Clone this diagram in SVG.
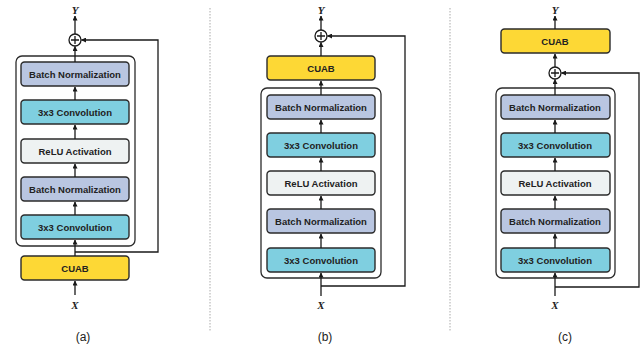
<svg xmlns="http://www.w3.org/2000/svg" width="644" height="350" viewBox="0 0 644 350">
<defs>
<marker id="ah" viewBox="0 0 10 10" refX="9" refY="5" markerWidth="5" markerHeight="5" orient="auto" markerUnits="userSpaceOnUse">
<path d="M0,0 L10,5 L0,10 z" fill="#1a1a1a"/>
</marker>
</defs>
<style>
.box{stroke:#2b2b2b;stroke-width:1.4}
.bn{fill:#b9c6e1}
.cv{fill:#7fcfe0}
.re{fill:#eef2f2}
.cu{fill:#fdd835}
.cont{fill:#ffffff;stroke:#2b2b2b;stroke-width:1.3}
.lbl{font-family:"Liberation Sans",Arial,sans-serif;font-weight:bold;font-size:9.5px;fill:#222;text-anchor:middle}
.var{font-family:"Liberation Serif","Times New Roman",serif;font-style:italic;font-weight:bold;font-size:11px;fill:#222;text-anchor:middle}
.cap{font-family:"Liberation Sans",Arial,sans-serif;font-size:12px;fill:#222;text-anchor:middle}
.ln{fill:none;stroke:#1a1a1a;stroke-width:1.3}
.sum{fill:#fff;stroke:#1a1a1a;stroke-width:1.3}
.sep{stroke:#aaaaaa;stroke-width:1;stroke-dasharray:1.5,1.5}
</style>

<line class="sep" x1="210" y1="8" x2="210" y2="332"/>
<line class="sep" x1="450" y1="8" x2="450" y2="332"/>

<!-- Panel (a) -->
<g id="a-container"><rect class="cont" x="16" y="56" width="119" height="190" rx="6"/></g>
<g id="a-bn1"><rect class="box bn" x="21" y="62" width="108" height="24" rx="3.5"/><text class="lbl" x="75" y="77.5">Batch Normalization</text></g>
<g id="a-conv1"><rect class="box cv" x="21" y="100" width="108" height="24" rx="3.5"/><text class="lbl" x="75" y="115.5">3x3 Convolution</text></g>
<g id="a-relu"><rect class="box re" x="21" y="139" width="108" height="24" rx="3.5"/><text class="lbl" x="75" y="154.5">ReLU Activation</text></g>
<g id="a-bn2"><rect class="box bn" x="21" y="177" width="108" height="24" rx="3.5"/><text class="lbl" x="75" y="192.5">Batch Normalization</text></g>
<g id="a-conv2"><rect class="box cv" x="21" y="215" width="108" height="24" rx="3.5"/><text class="lbl" x="75" y="230.5">3x3 Convolution</text></g>
<g id="a-cuab"><rect class="box cu" x="21" y="256" width="108" height="24" rx="3.5"/><text class="lbl" x="75" y="271.5">CUAB</text></g>
<g id="a-sum"><circle class="sum" cx="75" cy="40" r="6"/><path class="ln" d="M71,40 H79 M75,36 V44"/></g>
<g id="a-y"><text class="var" x="75" y="14">Y</text></g>
<g id="a-x"><text class="var" x="75" y="309">X</text></g>
<text class="cap" x="83" y="341">(a)</text>
<g id="a-edges">
<line class="ln" x1="75" y1="295" x2="75" y2="281" marker-end="url(#ah)"/>
<line class="ln" x1="75" y1="256" x2="75" y2="240" marker-end="url(#ah)"/>
<line class="ln" x1="75" y1="215" x2="75" y2="202" marker-end="url(#ah)"/>
<line class="ln" x1="75" y1="177" x2="75" y2="164" marker-end="url(#ah)"/>
<line class="ln" x1="75" y1="139" x2="75" y2="125" marker-end="url(#ah)"/>
<line class="ln" x1="75" y1="100" x2="75" y2="87" marker-end="url(#ah)"/>
<line class="ln" x1="75" y1="62" x2="75" y2="46.5" marker-end="url(#ah)"/>
<line class="ln" x1="75" y1="34" x2="75" y2="16" marker-end="url(#ah)"/>
<polyline class="ln" points="75,252 158,252 158,40 81.5,40" marker-end="url(#ah)"/>
</g>

<!-- Panel (b) -->
<g id="b-container"><rect class="cont" x="261" y="88" width="120" height="190" rx="6"/></g>
<g id="b-cuab"><rect class="box cu" x="267" y="56" width="108" height="24" rx="3.5"/><text class="lbl" x="321" y="71.5">CUAB</text></g>
<g id="b-bn1"><rect class="box bn" x="267" y="95" width="108" height="24" rx="3.5"/><text class="lbl" x="321" y="110.5">Batch Normalization</text></g>
<g id="b-conv1"><rect class="box cv" x="267" y="133" width="108" height="24" rx="3.5"/><text class="lbl" x="321" y="148.5">3x3 Convolution</text></g>
<g id="b-relu"><rect class="box re" x="267" y="171" width="108" height="24" rx="3.5"/><text class="lbl" x="321" y="186.5">ReLU Activation</text></g>
<g id="b-bn2"><rect class="box bn" x="267" y="209" width="108" height="24" rx="3.5"/><text class="lbl" x="321" y="224.5">Batch Normalization</text></g>
<g id="b-conv2"><rect class="box cv" x="267" y="248" width="108" height="24" rx="3.5"/><text class="lbl" x="321" y="263.5">3x3 Convolution</text></g>
<g id="b-sum"><circle class="sum" cx="321" cy="36" r="6"/><path class="ln" d="M317,36 H325 M321,32 V40"/></g>
<g id="b-y"><text class="var" x="321" y="14">Y</text></g>
<g id="b-x"><text class="var" x="321" y="309">X</text></g>
<text class="cap" x="325" y="341">(b)</text>
<g id="b-edges">
<line class="ln" x1="321" y1="296" x2="321" y2="273" marker-end="url(#ah)"/>
<line class="ln" x1="321" y1="248" x2="321" y2="234" marker-end="url(#ah)"/>
<line class="ln" x1="321" y1="209" x2="321" y2="196" marker-end="url(#ah)"/>
<line class="ln" x1="321" y1="171" x2="321" y2="158" marker-end="url(#ah)"/>
<line class="ln" x1="321" y1="133" x2="321" y2="120" marker-end="url(#ah)"/>
<line class="ln" x1="321" y1="95" x2="321" y2="81" marker-end="url(#ah)"/>
<line class="ln" x1="321" y1="56" x2="321" y2="42.5" marker-end="url(#ah)"/>
<line class="ln" x1="321" y1="30" x2="321" y2="16" marker-end="url(#ah)"/>
<polyline class="ln" points="321,286 405,286 405,36 327.5,36" marker-end="url(#ah)"/>
</g>

<!-- Panel (c) -->
<g id="c-container"><rect class="cont" x="496" y="88" width="119" height="190" rx="6"/></g>
<g id="c-cuab"><rect class="box cu" x="501" y="29" width="109" height="24" rx="3.5"/><text class="lbl" x="555" y="44.5">CUAB</text></g>
<g id="c-bn1"><rect class="box bn" x="501" y="95" width="109" height="24" rx="3.5"/><text class="lbl" x="555" y="110.5">Batch Normalization</text></g>
<g id="c-conv1"><rect class="box cv" x="501" y="133" width="109" height="24" rx="3.5"/><text class="lbl" x="555" y="148.5">3x3 Convolution</text></g>
<g id="c-relu"><rect class="box re" x="501" y="171" width="109" height="24" rx="3.5"/><text class="lbl" x="555" y="186.5">ReLU Activation</text></g>
<g id="c-bn2"><rect class="box bn" x="501" y="209" width="109" height="24" rx="3.5"/><text class="lbl" x="555" y="224.5">Batch Normalization</text></g>
<g id="c-conv2"><rect class="box cv" x="501" y="248" width="109" height="24" rx="3.5"/><text class="lbl" x="555" y="263.5">3x3 Convolution</text></g>
<g id="c-sum"><circle class="sum" cx="555" cy="73" r="6"/><path class="ln" d="M551,73 H559 M555,69 V77"/></g>
<g id="c-y"><text class="var" x="555" y="14">Y</text></g>
<g id="c-x"><text class="var" x="555" y="309">X</text></g>
<text class="cap" x="565" y="341">(c)</text>
<g id="c-edges">
<line class="ln" x1="555" y1="296" x2="555" y2="273" marker-end="url(#ah)"/>
<line class="ln" x1="555" y1="248" x2="555" y2="234" marker-end="url(#ah)"/>
<line class="ln" x1="555" y1="209" x2="555" y2="196" marker-end="url(#ah)"/>
<line class="ln" x1="555" y1="171" x2="555" y2="158" marker-end="url(#ah)"/>
<line class="ln" x1="555" y1="133" x2="555" y2="120" marker-end="url(#ah)"/>
<line class="ln" x1="555" y1="95" x2="555" y2="79.5" marker-end="url(#ah)"/>
<line class="ln" x1="555" y1="67" x2="555" y2="54" marker-end="url(#ah)"/>
<line class="ln" x1="555" y1="29" x2="555" y2="16" marker-end="url(#ah)"/>
<polyline class="ln" points="555,287 639,287 639,73 561.5,73" marker-end="url(#ah)"/>
</g>
</svg>
